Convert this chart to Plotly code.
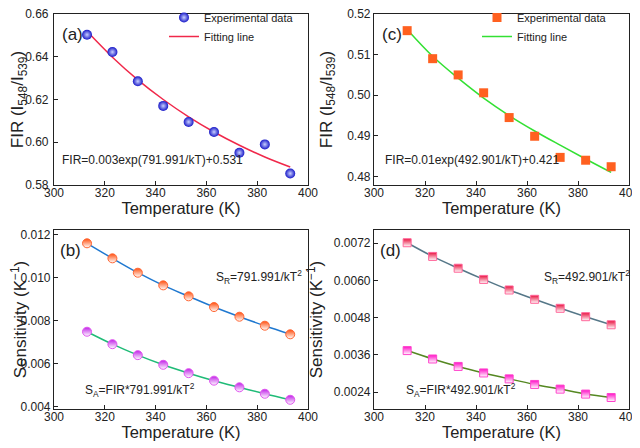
import plotly.graph_objects as go

temps = [313, 323, 333, 343, 353, 363, 373, 383, 393]

# (a)
fir_a = [0.6503, 0.6422, 0.6285, 0.6170, 0.6095, 0.6048, 0.5951, 0.5990, 0.5854]
fit_a = [0.6519, 0.6398, 0.6292, 0.6200, 0.6119, 0.6048, 0.5986, 0.5931, 0.5884]
# (c)
fir_c = [0.5159, 0.5090, 0.5050, 0.5006, 0.4945, 0.4899, 0.4847, 0.4840, 0.4824]
fit_c = [0.5162, 0.5096, 0.5042, 0.4993, 0.4950, 0.4912, 0.4877, 0.4843, 0.4810]
# (b)
sr_b = [0.01160, 0.01090, 0.01023, 0.00964, 0.00913, 0.00863, 0.00818, 0.00776, 0.00736]
sa_b = [0.00748, 0.00690, 0.00639, 0.00594, 0.00555, 0.00520, 0.00489, 0.00459, 0.00431]
# (d)
sr_d = [0.00721, 0.00677, 0.00639, 0.00603, 0.00569, 0.00539, 0.00510, 0.00483, 0.00457]
sa_d = [0.00374, 0.00347, 0.00323, 0.00302, 0.00283, 0.00265, 0.00250, 0.00234, 0.00223]

FONT = "Arial, Liberation Sans, sans-serif"

fig = go.Figure()

# (a)
fig.add_trace(go.Scatter(x=temps, y=fit_a, mode="lines", line=dict(color="#f0284a", width=1.5, shape="spline"),
                         name="Fitting line", xaxis="x", yaxis="y", legend="legend"))
fig.add_trace(go.Scatter(x=temps, y=fir_a, mode="markers", name="Experimental data",
                         marker=dict(symbol="circle", size=10, color="#1818c8", line=dict(width=0),
                                     gradient=dict(type="radial", color="#c8d0ff")),
                         xaxis="x", yaxis="y", legend="legend"))
# (c)
fig.add_trace(go.Scatter(x=temps, y=fit_c, mode="lines", line=dict(color="#33e033", width=1.5, shape="spline"),
                         name="Fitting line", xaxis="x2", yaxis="y2", legend="legend2"))
fig.add_trace(go.Scatter(x=temps, y=fir_c, mode="markers", name="Experimental data",
                         marker=dict(symbol="square", size=9, color="#ff6020", line=dict(width=0)),
                         xaxis="x2", yaxis="y2", legend="legend2"))
# (b)
fig.add_trace(go.Scatter(x=temps, y=sr_b, mode="lines", line=dict(color="#1f78d0", width=1.5, shape="spline"),
                         showlegend=False, xaxis="x3", yaxis="y3"))
fig.add_trace(go.Scatter(x=temps, y=sr_b, mode="markers", showlegend=False,
                         marker=dict(symbol="circle", size=9, color="#ff5010", line=dict(width=1, color="#ff6633"),
                                     gradient=dict(type="vertical", color="white")),
                         xaxis="x3", yaxis="y3"))
fig.add_trace(go.Scatter(x=temps, y=sa_b, mode="lines", line=dict(color="#1fbb77", width=1.5, shape="spline"),
                         showlegend=False, xaxis="x3", yaxis="y3"))
fig.add_trace(go.Scatter(x=temps, y=sa_b, mode="markers", showlegend=False,
                         marker=dict(symbol="circle", size=9, color="#c020e8", line=dict(width=1, color="#e055f0"),
                                     gradient=dict(type="vertical", color="white")),
                         xaxis="x3", yaxis="y3"))
# (d)
fig.add_trace(go.Scatter(x=temps, y=sr_d, mode="lines", line=dict(color="#557788", width=1.5, shape="spline"),
                         showlegend=False, xaxis="x4", yaxis="y4"))
fig.add_trace(go.Scatter(x=temps, y=sr_d, mode="markers", showlegend=False,
                         marker=dict(symbol="square", size=8, color="#e8103c", line=dict(width=1, color="#ff6699"),
                                     gradient=dict(type="vertical", color="white")),
                         xaxis="x4", yaxis="y4"))
fig.add_trace(go.Scatter(x=temps, y=sa_d, mode="lines", line=dict(color="#558822", width=1.5, shape="spline"),
                         showlegend=False, xaxis="x4", yaxis="y4"))
fig.add_trace(go.Scatter(x=temps, y=sa_d, mode="markers", showlegend=False,
                         marker=dict(symbol="square", size=8, color="#ff10c8", line=dict(width=1, color="#ff44cc"),
                                     gradient=dict(type="vertical", color="white")),
                         xaxis="x4", yaxis="y4"))

# the page body has an 8px margin, so the figure is drawn 8px right/down
OFF = 8
W, H = 640 - OFF, 448 - OFF
xl, xr = (54 - OFF) / W, (308 - OFF) / W
xl2, xr2 = (374 - OFF) / W, (629 - OFF) / W
yt1, yb1 = 1 - (14 - OFF) / H, 1 - (185 - OFF) / H
yt2, yb2 = 1 - (230 - OFF) / H, 1 - (409 - OFF) / H

ax_common = dict(showline=True, linecolor="#222", linewidth=1.2, mirror=True, ticks="inside",
                 ticklen=4, tickcolor="#222", showgrid=False, zeroline=False, automargin=False,
                 ticklabeloverflow="allow",
                 tickfont=dict(family=FONT, size=12, color="#222"))
xcommon = dict(ax_common, range=[300, 400], dtick=20, tick0=300, ticklabelstandoff=-4,
               title=dict(text="Temperature (K)", font=dict(family=FONT, size=16.5, color="#222"), standoff=0))
ytitle_font = dict(family=FONT, size=17, color="#222")

fig.update_layout(
    width=W, height=H, margin=dict(l=0, r=0, t=0, b=0, autoexpand=False),
    paper_bgcolor="white", plot_bgcolor="white",
    font=dict(family=FONT, color="#222"),
    xaxis=dict(xcommon, domain=[xl, xr], anchor="y"),
    yaxis=dict(ax_common, domain=[yb1, yt1], anchor="x", range=[0.58, 0.66], dtick=0.02, tick0=0.58,
               tickformat=".2f", ticklabelstandoff=2,
               title=dict(text="FIR (I<sub>548</sub>/I<sub>539</sub>)", font=ytitle_font, standoff=8)),
    xaxis2=dict(xcommon, domain=[xl2, xr2], anchor="y2"),
    yaxis2=dict(ax_common, domain=[yb1, yt1], anchor="x2", range=[0.4779, 0.52], dtick=0.01, tick0=0.48,
                tickformat=".2f", ticklabelstandoff=0,
                title=dict(text="FIR (I<sub>548</sub>/I<sub>539</sub>)", font=ytitle_font, standoff=10)),
    xaxis3=dict(xcommon, domain=[xl, xr], anchor="y3"),
    yaxis3=dict(ax_common, domain=[yb2, yt2], anchor="x3", range=[0.00388, 0.01222], dtick=0.002, tick0=0.004,
                tickformat=".3f", ticklabelstandoff=0,
                title=dict(text="Sensitivity (K<sup>−1</sup>)", font=ytitle_font, standoff=12)),
    xaxis4=dict(xcommon, domain=[xl2, xr2], anchor="y4"),
    yaxis4=dict(ax_common, domain=[yb2, yt2], anchor="x4", range=[0.00186, 0.00762], dtick=0.0012, tick0=0.0024,
                tickformat=".4f", ticklabelstandoff=0,
                title=dict(text="Sensitivity (K<sup>−1</sup>)", font=ytitle_font, standoff=6)),
    legend=dict(x=156 / W, y=1 + 5 / H, xanchor="left", yanchor="top", bgcolor="rgba(0,0,0,0)",
                font=dict(family=FONT, size=11, color="#222"), traceorder="reversed",
                itemwidth=30, tracegroupgap=0),
    legend2=dict(x=469 / W, y=1 + 5 / H, xanchor="left", yanchor="top", bgcolor="rgba(0,0,0,0)",
                 font=dict(family=FONT, size=11, color="#222"), traceorder="reversed",
                 itemwidth=30, tracegroupgap=0),
)

ann = [
    dict(text="(a)", xref="x domain", yref="y domain", x=0.022, y=0.88, size=17),
    dict(text="(c)", xref="x2 domain", yref="y2 domain", x=0.022, y=0.88, size=17),
    dict(text="(b)", xref="x3 domain", yref="y3 domain", x=0.015, y=0.884, size=17),
    dict(text="(d)", xref="x4 domain", yref="y4 domain", x=0.015, y=0.884, size=17),
    dict(text="FIR=0.003exp(791.991/kT)+0.531", xref="x domain", yref="y domain", x=0.025, y=0.145, size=12),
    dict(text="FIR=0.01exp(492.901/kT)+0.421", xref="x2 domain", yref="y2 domain", x=0.035, y=0.145, size=12),
    dict(text="S<sub>R</sub>=791.991/kT<sup>2</sup>", xref="x3 domain", yref="y3 domain", x=0.63, y=0.737, size=12),
    dict(text="S<sub>A</sub>=FIR*791.991/kT<sup>2</sup>", xref="x3 domain", yref="y3 domain", x=0.114, y=0.106, size=12),
    dict(text="S<sub>R</sub>=492.901/kT<sup>2</sup>", xref="x4 domain", yref="y4 domain", x=0.66, y=0.737, size=12),
    dict(text="S<sub>A</sub>=FIR*492.901/kT<sup>2</sup>", xref="x4 domain", yref="y4 domain", x=0.118, y=0.106, size=12),
]
for a in ann:
    fig.add_annotation(text=a["text"], xref=a["xref"], yref=a["yref"], x=a["x"], y=a["y"],
                       xanchor="left", yanchor="middle", showarrow=False,
                       font=dict(family=FONT, size=a["size"], color="#222"))

fig.write_html("out.html")
